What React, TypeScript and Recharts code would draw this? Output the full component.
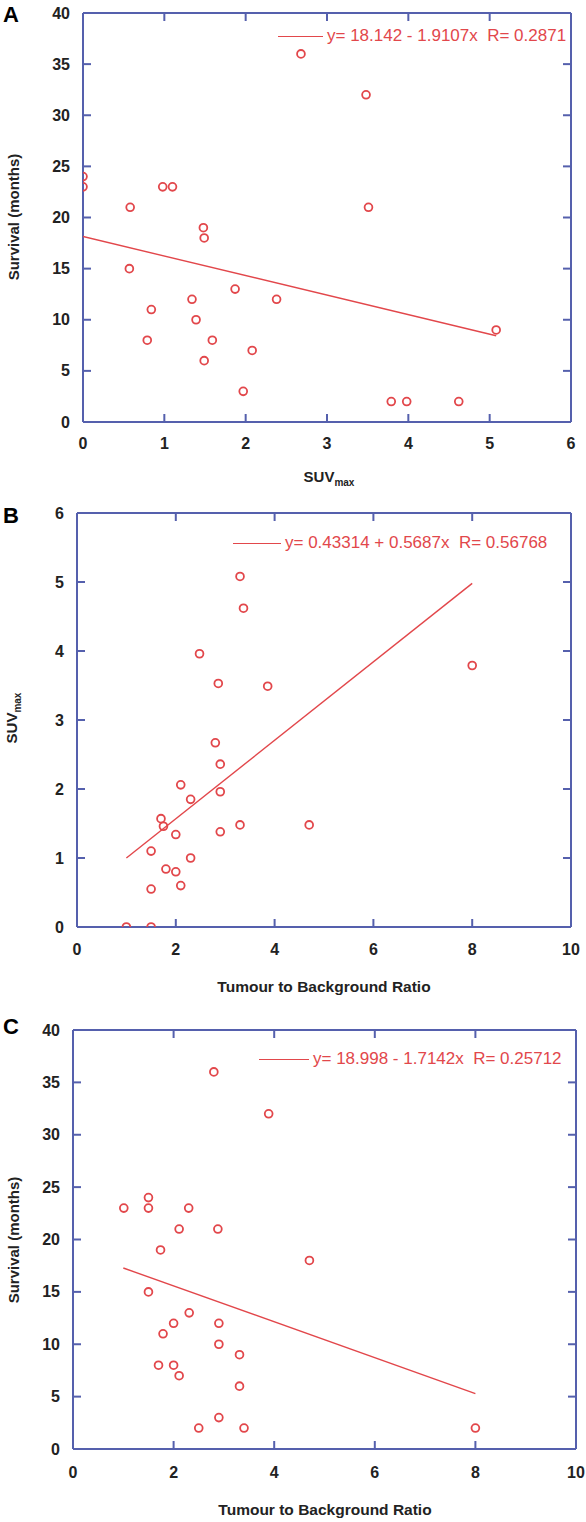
import React from 'react';
import { ScatterChart, Scatter, XAxis, YAxis, Legend, ReferenceLine } from 'recharts';

const AXIS = '#5560ad';
const RED = '#e2474b';
const TXT = '#222222';
const FONT = '"Liberation Sans", Arial, Helvetica, sans-serif';
const TL = 8;

// ---------- Panel A: SUVmax vs survival ----------
const aSuv = [0, 0, 0.58, 0.57, 0.98, 1.1, 0.84, 0.79, 1.48, 1.49, 1.34, 1.39, 1.49, 1.59, 1.87, 1.97, 2.08, 2.38, 2.68, 3.48, 3.51, 3.79, 3.98, 4.62, 5.08];
const aSurvival = [24, 23, 21, 15, 23, 23, 11, 8, 19, 18, 12, 10, 6, 8, 13, 3, 7, 12, 36, 32, 21, 2, 2, 2, 9];
const aFitX = [0, 5.08];
const aFitY = [18.14, 8.44];
const aXTicks = [0, 1, 2, 3, 4, 5, 6];
const aYTicks = [0, 5, 10, 15, 20, 25, 30, 35, 40];
const aLegend = 'y= 18.142 - 1.9107x  R= 0.2871';

// ---------- Panel B: ratio vs SUVmax ----------
const bRatio = [1.0, 1.5, 1.5, 1.5, 1.8, 2.0, 2.1, 2.3, 1.7, 1.75, 2.0, 2.1, 2.3, 2.9, 2.9, 2.8, 2.9, 3.3, 4.7, 3.3, 3.37, 2.48, 2.86, 3.86, 8.0];
const bSuv = [0, 0, 0.55, 1.1, 0.84, 0.8, 0.6, 1.0, 1.57, 1.46, 1.34, 2.06, 1.85, 1.96, 2.36, 2.67, 1.38, 1.48, 1.48, 5.08, 4.62, 3.96, 3.53, 3.49, 3.79];
const bFitX = [1, 8];
const bFitY = [1.0, 4.98];
const bXTicks = [0, 2, 4, 6, 8, 10];
const bYTicks = [0, 1, 2, 3, 4, 5, 6];
const bLegend = 'y= 0.43314 + 0.5687x  R= 0.56768';

// ---------- Panel C: ratio vs survival ----------
const cRatio = [1.5, 2.31, 2.0, 1.79, 2.9, 2.9, 3.31, 1.7, 2.0, 2.11, 3.31, 2.9, 2.5, 3.4, 8.0, 4.7, 1.01, 1.5, 1.5, 2.3, 2.11, 2.88, 1.74, 2.8, 3.89];
const cSurvival = [15, 13, 12, 11, 12, 10, 9, 8, 8, 7, 6, 3, 2, 2, 2, 18, 23, 24, 23, 23, 21, 21, 19, 36, 32];
const cFitX = [1, 8];
const cFitY = [17.28, 5.29];
const cXTicks = [0, 2, 4, 6, 8, 10];
const cYTicks = [0, 5, 10, 15, 20, 25, 30, 35, 40];
const cLegend = 'y= 18.998 - 1.7142x  R= 0.25712';

const zip = (xs: number[], ys: number[]) => xs.map((x, i) => ({ x, y: ys[i] }));

const Ring = (props: any) => {
  const { cx, cy } = props;
  if (cx == null || cy == null) return <g />;
  return <circle cx={cx} cy={cy} r={3.9} fill="none" stroke={RED} strokeWidth={1.8} />;
};

const NoShape = () => <g />;

type PanelProps = {
  height: number;
  margin: { top: number; left: number; right: number; bottom: number };
  xDomain: [number, number];
  yDomain: [number, number];
  xTicks: number[];
  yTicks: number[];
  points: { x: number; y: number }[];
  fit: { x: number; y: number }[];
  legendText: string;
  legendLeft: number;
  legendTop: number;
  legendLine: number;
  xLabelDy: number;
};

const WIDTH = 586;

function Panel(p: PanelProps) {
  const plotW = WIDTH - p.margin.left - 1 - p.margin.right;
  const plotH = p.height - p.margin.top - p.margin.bottom - 1;

  const XTick = (props: any) => {
    const { x, y, payload } = props;
    return (
      <g>
        <line x1={x} y1={y} x2={x} y2={y - TL} stroke={AXIS} strokeWidth={2} />
        <line x1={x} y1={y - plotH} x2={x} y2={y - plotH + TL} stroke={AXIS} strokeWidth={2} />
        <text x={x} y={y + p.xLabelDy} textAnchor="middle" dominantBaseline="central" fontFamily={FONT} fontSize={16} fontWeight="bold" fill={TXT}>
          {payload.value}
        </text>
      </g>
    );
  };

  const YTick = (props: any) => {
    const { x, y, payload } = props;
    return (
      <g>
        <line x1={x} y1={y} x2={x + TL} y2={y} stroke={AXIS} strokeWidth={2} />
        <line x1={x + plotW} y1={y} x2={x + plotW - TL} y2={y} stroke={AXIS} strokeWidth={2} />
        <text x={x - 13} y={y} textAnchor="end" dominantBaseline="central" fontFamily={FONT} fontSize={16} fontWeight="bold" fill={TXT}>
          {payload.value}
        </text>
      </g>
    );
  };

  const LegendContent = () => (
    <div style={{ display: 'flex', alignItems: 'center', height: 20, fontFamily: FONT, fontSize: 17, color: RED, whiteSpace: 'pre' }}>
      <span style={{ display: 'inline-block', width: p.legendLine, height: 0, borderTop: `1.5px solid ${RED}`, marginRight: 4 }} />
      <span>{p.legendText}</span>
    </div>
  );

  const frame = { stroke: AXIS, strokeWidth: 2 };

  return (
    <ScatterChart width={WIDTH} height={p.height} margin={p.margin}>
      <XAxis
        type="number"
        dataKey="x"
        domain={p.xDomain}
        ticks={p.xTicks}
        allowDataOverflow
        height={1}
        tickSize={0}
        tickMargin={0}
        axisLine={frame}
        tickLine={false}
        tick={XTick}
        interval={0}
      />
      <YAxis
        type="number"
        dataKey="y"
        domain={p.yDomain}
        ticks={p.yTicks}
        allowDataOverflow
        width={1}
        tickSize={0}
        tickMargin={0}
        axisLine={frame}
        tickLine={false}
        tick={YTick}
        interval={0}
      />
      <ReferenceLine x={p.xDomain[0]} stroke={AXIS} strokeWidth={2} ifOverflow="visible" />
      <ReferenceLine x={p.xDomain[1]} stroke={AXIS} strokeWidth={2} ifOverflow="visible" />
      <ReferenceLine y={p.yDomain[0]} stroke={AXIS} strokeWidth={2} ifOverflow="visible" />
      <ReferenceLine y={p.yDomain[1]} stroke={AXIS} strokeWidth={2} ifOverflow="visible" />
      <Scatter data={p.fit} line={{ stroke: RED, strokeWidth: 1.4 }} lineType="joint" shape={NoShape} isAnimationActive={false} legendType="none" />
      <Scatter data={p.points} shape={Ring} isAnimationActive={false} />
      <Legend
        layout="horizontal"
        verticalAlign="middle"
        align="center"
        content={LegendContent}
        wrapperStyle={{ position: 'absolute', left: p.legendLeft, top: p.legendTop, width: 'auto' }}
      />
    </ScatterChart>
  );
}

const abs = (left: number, top: number): React.CSSProperties => ({
  position: 'absolute',
  left,
  top,
  transform: 'translate(-50%, -50%)',
  whiteSpace: 'nowrap',
  fontFamily: FONT,
  fontWeight: 'bold',
  color: TXT,
});

const rot = (left: number, top: number): React.CSSProperties => ({
  ...abs(left, top),
  transform: 'translate(-50%, -50%) rotate(-90deg)',
  fontSize: 15,
});

const letter = (top: number): React.CSSProperties => ({
  position: 'absolute',
  left: 3,
  top,
  fontFamily: FONT,
  fontWeight: 'bold',
  fontSize: 22,
  color: '#000',
  lineHeight: '22px',
});

export default function App() {
  return (
    <div style={{ position: 'absolute', left: 0, top: 0, width: 586, height: 1522, background: '#fff' }}>
      <div style={{ position: 'absolute', left: 0, top: 0 }}>
        <Panel
          height={500}
          margin={{ top: 13, left: 82, right: 15, bottom: 77 }}
          xDomain={[0, 6]}
          yDomain={[0, 40]}
          xTicks={aXTicks}
          yTicks={aYTicks}
          points={zip(aSuv, aSurvival)}
          fit={zip(aFitX, aFitY)}
          legendText={aLegend}
          legendLeft={278}
          legendTop={26}
          legendLine={45}
          xLabelDy={21}
        />
      </div>
      <div style={{ position: 'absolute', left: 0, top: 500 }}>
        <Panel
          height={505}
          margin={{ top: 13, left: 76, right: 15, bottom: 77 }}
          xDomain={[0, 10]}
          yDomain={[0, 6]}
          xTicks={bXTicks}
          yTicks={bYTicks}
          points={zip(bRatio, bSuv)}
          fit={zip(bFitX, bFitY)}
          legendText={bLegend}
          legendLeft={233}
          legendTop={33}
          legendLine={48}
          xLabelDy={22}
        />
      </div>
      <div style={{ position: 'absolute', left: 0, top: 1005 }}>
        <Panel
          height={517}
          margin={{ top: 25, left: 72, right: 10, bottom: 72 }}
          xDomain={[0, 10]}
          yDomain={[0, 40]}
          xTicks={cXTicks}
          yTicks={cYTicks}
          points={zip(cRatio, cSurvival)}
          fit={zip(cFitX, cFitY)}
          legendText={cLegend}
          legendLeft={259}
          legendTop={44}
          legendLine={50}
          xLabelDy={23}
        />
      </div>

      <div style={letter(4)}>A</div>
      <div style={letter(505)}>B</div>
      <div style={letter(1016)}>C</div>

      <div style={rot(13, 217)}>Survival (months)</div>
      <div style={{ ...abs(329, 478), fontSize: 15 }}>
        SUV<sub style={{ fontSize: 10 }}>max</sub>
      </div>

      <div style={rot(13, 718)}>
        SUV<sub style={{ fontSize: 10 }}>max</sub>
      </div>
      <div style={{ ...abs(324, 987), fontSize: 15.5 }}>Tumour to Background Ratio</div>

      <div style={rot(13, 1240)}>Survival (months)</div>
      <div style={{ ...abs(325, 1510), fontSize: 15.5 }}>Tumour to Background Ratio</div>
    </div>
  );
}
